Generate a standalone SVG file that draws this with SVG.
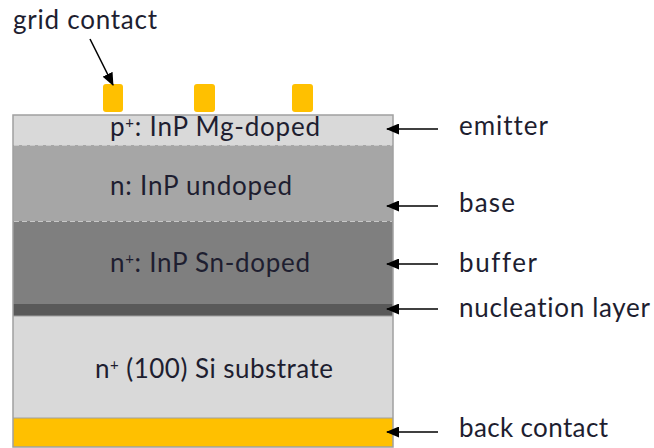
<svg xmlns="http://www.w3.org/2000/svg" width="654" height="448" viewBox="0 0 654 448">
  <style>
    .lbl { font-family: Lato, "Open Sans", "Liberation Sans", sans-serif; font-size: 26px; fill: #1e1e30; font-variant-ligatures: none; font-feature-settings: "liga" 0, "clig" 0; }
    .sup { font-size: 15px; }
    .ptr { stroke: #000; stroke-width: 1.6; fill: none; }
    .seam { stroke: #c8c8c8; stroke-width: 1.2; stroke-dasharray: 5 3; fill: none; }
    .contact { fill: #ffc000; }
  </style>
  <defs>
    <marker id="head" viewBox="0 0 13 11" refX="12" refY="5.5" markerWidth="13" markerHeight="11" markerUnits="userSpaceOnUse" orient="auto">
      <path d="M0,0 L13,5.5 L0,11 Z" fill="#000"/>
    </marker>
  </defs>
  <rect width="654" height="448" fill="#fff"/>

  <!-- layer stack -->
  <g id="emitter-layer">
    <rect x="13" y="115" width="380" height="30" fill="#d9d9d9"/>
    <text class="lbl" x="110" y="136" textLength="210" lengthAdjust="spacing">p<tspan class="sup" dy="-8">+</tspan><tspan dy="8">: InP Mg-doped</tspan></text>
  </g>
  <g id="base-layer">
    <rect x="13" y="145" width="380" height="76" fill="#a6a6a6"/>
    <text class="lbl" x="110" y="195" textLength="182" lengthAdjust="spacing">n: InP undoped</text>
  </g>
  <g id="buffer-layer">
    <rect x="13" y="221" width="380" height="83" fill="#7f7f7f"/>
    <text class="lbl" x="110" y="272" textLength="200" lengthAdjust="spacing">n<tspan class="sup" dy="-8">+</tspan><tspan dy="8">: InP Sn-doped</tspan></text>
  </g>
  <g id="nucleation-layer">
    <rect x="13" y="304" width="380" height="12" fill="#595959"/>
  </g>
  <g id="substrate">
    <rect x="13" y="316" width="380" height="102" fill="#d9d9d9"/>
    <text class="lbl" x="95" y="378" textLength="238" lengthAdjust="spacing">n<tspan class="sup" dy="-8">+</tspan><tspan dy="8"> (100)  Si substrate</tspan></text>
  </g>
  <g id="back-contact">
    <rect x="13" y="418" width="380" height="29" fill="#ffc000"/>
  </g>

  <!-- interfaces and outline -->
  <path class="seam" d="M14,145.5 H392"/>
  <path class="seam" d="M14,221.5 H392"/>
  <line x1="13" y1="316" x2="393" y2="316" stroke="#a0a0a0" stroke-width="1"/>
  <line x1="13" y1="418" x2="393" y2="418" stroke="#a0a0a0" stroke-width="1"/>
  <rect x="13" y="115" width="380" height="332" fill="none" stroke="#a0a0a0" stroke-width="1.5"/>

  <!-- front grid fingers -->
  <g id="grid-contacts">
    <rect class="contact" x="103" y="84" width="20" height="28" rx="3"/>
    <rect class="contact" x="194" y="84" width="21" height="28" rx="3"/>
    <rect class="contact" x="292" y="84" width="21" height="28" rx="3"/>
  </g>

  <!-- callout labels -->
  <g id="grid-contact-label"><text class="lbl" x="13" y="29" textLength="144" lengthAdjust="spacing">grid contact</text></g>
  <g id="emitter-label"><text class="lbl" x="459" y="135" textLength="89" lengthAdjust="spacing">emitter</text></g>
  <g id="base-label"><text class="lbl" x="459" y="212" textLength="56" lengthAdjust="spacing">base</text></g>
  <g id="buffer-label"><text class="lbl" x="459" y="272" textLength="78" lengthAdjust="spacing">buffer</text></g>
  <g id="nucleation-label"><text class="lbl" x="459" y="317" textLength="191" lengthAdjust="spacing">nucleation layer</text></g>
  <g id="back-contact-label"><text class="lbl" x="459" y="437" textLength="149" lengthAdjust="spacing">back contact</text></g>

  <!-- pointer arrows -->
  <g id="connectors">
    <line class="ptr" x1="90" y1="39" x2="113" y2="85" marker-end="url(#head)"/>
    <line class="ptr" x1="438" y1="129" x2="387" y2="129" marker-end="url(#head)"/>
    <line class="ptr" x1="438" y1="206" x2="387" y2="206" marker-end="url(#head)"/>
    <line class="ptr" x1="438" y1="264" x2="387" y2="264" marker-end="url(#head)"/>
    <line class="ptr" x1="438" y1="309" x2="387" y2="309" marker-end="url(#head)"/>
    <line class="ptr" x1="438" y1="432" x2="387" y2="432" marker-end="url(#head)"/>
  </g>
</svg>
